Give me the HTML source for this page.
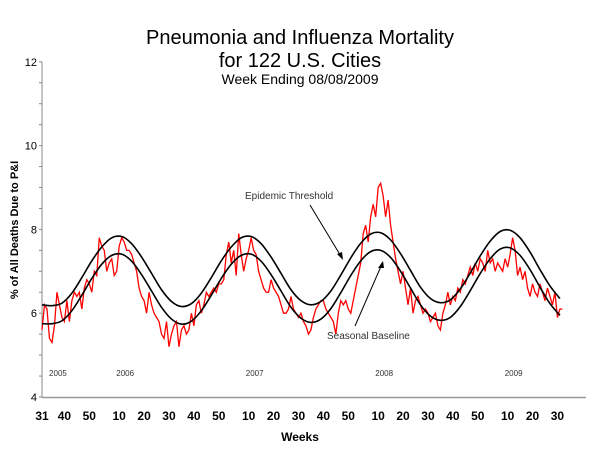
<!DOCTYPE html>
<html><head><meta charset="utf-8"><style>
body{margin:0;background:#fff;}
svg{display:block;font-family:"Liberation Sans",Arial,sans-serif;}
</style></head><body>
<svg id="chart" width="600" height="450" viewBox="0 0 600 450">
<text x="300" y="44" font-size="20" text-anchor="middle">Pneumonia and Influenza Mortality</text>
<text x="300" y="67" font-size="20" text-anchor="middle">for 122 U.S. Cities</text>
<text x="300" y="84" font-size="14" text-anchor="middle">Week Ending 08/08/2009</text>
<text transform="translate(18,230) rotate(-90)" font-size="11" font-weight="bold" text-anchor="middle">% of All Deaths Due to P&amp;I</text>
<text x="300" y="441" font-size="12" font-weight="bold" text-anchor="middle">Weeks</text>
<g id="axes"></g>
<g id="marks"></g>
<text x="245" y="199" font-size="10" fill="#333">Epidemic Threshold</text>
<line x1="310" y1="205" x2="342" y2="258" stroke="#000" stroke-width="1"/>
<polygon points="343,260 337,254 342,252" fill="#000"/>
<text x="327" y="339" font-size="10" fill="#333">Seasonal Baseline</text>
<line x1="355" y1="326" x2="382" y2="264" stroke="#000" stroke-width="1"/>
<polygon points="383,261 378,268 384,268" fill="#000"/>
</svg>
<script>
const pi = [5.6,6.2,6.1,5.4,5.3,5.7,6.5,6.2,5.9,5.8,6.3,5.8,6.3,6.5,6.4,6.5,6.1,6.6,6.8,6.7,6.5,7.0,
6.9,7.8,7.6,7.5,7.0,7.2,7.3,6.9,7.0,7.6,7.8,7.7,7.5,7.5,7.4,7.2,7.0,6.6,6.4,
6.3,6.0,6.5,6.2,6.0,5.9,5.8,5.5,5.4,5.8,5.2,5.5,5.7,5.8,5.2,5.6,5.7,5.5,5.6,6.0,
5.7,6.2,6.3,6.0,6.2,6.5,6.4,6.5,6.6,6.5,6.7,6.7,6.8,
7.4,7.7,7.2,7.5,6.9,7.9,7.4,7.0,7.3,7.5,7.8,7.5,7.4,7.0,6.8,6.6,6.5,6.5,6.8,6.6,6.5,6.4,
6.2,6.0,6.0,6.1,6.4,6.1,6.0,5.9,6.0,5.8,5.7,5.5,5.6,5.9,6.1,6.2,6.3,
6.3,6.1,6.0,5.9,5.8,5.5,6.0,6.3,6.2,6.3,6.1,6.0,6.3,
6.6,6.9,7.2,7.9,8.1,7.7,8.3,8.6,8.3,9.0,9.1,8.8,8.3,8.7,8.1,7.7,7.3,7.0,6.7,7.0,6.6,6.2,
6.6,6.0,6.3,6.4,6.2,6.0,6.1,6.0,5.8,5.9,6.0,5.7,5.6,6.0,6.2,6.5,6.2,6.4,
6.3,6.6,6.5,6.8,6.7,6.9,7.1,6.9,7.2,7.0,7.3,7.2,7.0,
7.5,7.2,7.3,7.0,7.2,7.1,7.0,7.3,7.1,7.4,7.8,7.5,6.9,7.1,6.8,7.0,6.6,6.4,6.7,6.5,6.4,6.7,
6.5,6.3,6.6,6.4,6.2,6.5,5.9,6.1,6.1];
// sampled every 4 weeks
const baseline = [5.75,5.75,5.82,6.06,6.43,6.83,7.17,7.38,7.41,7.24,6.92,6.53,6.14,5.86,5.74,5.81,6.06,6.43,6.83,7.17,7.38,7.41,7.24,6.92,6.53,6.14,5.88,5.78,5.86,6.11,6.49,6.9,7.25,7.47,7.5,7.33,7.0,6.6,6.2,5.93,5.83,5.9,6.16,6.54,6.95,7.3,7.53,7.56,7.38,7.04,6.62,6.23,5.95];
const threshold = [6.2,6.18,6.24,6.48,6.85,7.25,7.58,7.8,7.83,7.66,7.34,6.95,6.56,6.28,6.16,6.23,6.48,6.85,7.25,7.58,7.8,7.83,7.66,7.34,6.95,6.56,6.3,6.2,6.28,6.53,6.91,7.32,7.67,7.89,7.92,7.75,7.42,7.02,6.62,6.35,6.25,6.32,6.58,6.96,7.37,7.72,7.95,7.98,7.8,7.46,7.04,6.65,6.35];
const yTicks = [4,6,8,10,12];
const xTickWeeks = [0,9,19,31,41,51,61,71,83,93,103,113,123,135,145,155,165,175,187,197,207];
const xTickLabels = ["31","40","50","10","20","30","40","50","10","20","30","40","50","10","20","30","40","50","10","20","30"];
const yearWeeks = [4,31,83,135,187];
const yearLabels = ["2005","2006","2007","2008","2009"];

const NS="http://www.w3.org/2000/svg";
const x0=42, dx=2.49;
const X = i => x0 + i*dx;
const Y = v => 397 - (v-4)*41.9;
const axes=document.getElementById('axes'), marks=document.getElementById('marks');
function mk(tag, attrs, parent){const e=document.createElementNS(NS,tag);for(const k in attrs)e.setAttribute(k,attrs[k]);parent.appendChild(e);return e;}

let e=mk('line',{x1:x0,y1:62,x2:x0,y2:397,stroke:'#888','stroke-width':1},axes);


e=mk('line',{x1:x0,y1:397.5,x2:586,y2:397.5,stroke:'#999','stroke-width':1.5},axes);


for(let v=4; v<=12.001; v+=0.5){
  e=mk('line',{x1:x0-3,y1:Y(v),x2:x0,y2:Y(v),stroke:'#888','stroke-width':1},axes);
  
  
}
yTicks.forEach(v=>{
  e=mk('text',{x:x0-5,y:Y(v)+4,'font-size':11,'text-anchor':'end'},axes);
  e.textContent=v;
  
  
});
xTickWeeks.forEach((w,k)=>{
  e=mk('text',{x:X(w),y:420,'font-size':12,'font-weight':'bold','text-anchor':'middle'},axes);
  e.textContent=xTickLabels[k];
  
  
});
yearWeeks.forEach((w,k)=>{
  e=mk('text',{x:X(w)+6,y:376,'font-size':8,'fill':'#333','text-anchor':'middle'},axes);
  e.textContent=yearLabels[k];
  
  
});
function smooth(arr, step){
  const p=arr.map((v,i)=>[X(Math.min(i*step,pi.length-1)),Y(v)]);
  let d='M'+p[0][0]+','+p[0][1];
  for(let i=0;i<p.length-1;i++){
    const a=p[Math.max(i-1,0)],b=p[i],c=p[i+1],q=p[Math.min(i+2,p.length-1)];
    d+=` C${b[0]+(c[0]-a[0])/6},${b[1]+(c[1]-a[1])/6} ${c[0]-(q[0]-b[0])/6},${c[1]-(q[1]-b[1])/6} ${c[0]},${c[1]}`;
  }
  return d;
}
e=mk('path',{d:pi.map((v,i)=>(i?'L':'M')+X(i)+','+Y(v)).join(''),fill:'none',stroke:'#ff0000','stroke-width':1.3},marks);


e=mk('path',{d:smooth(baseline,4),fill:'none',stroke:'#000','stroke-width':1.6},marks);


e=mk('path',{d:smooth(threshold,4),fill:'none',stroke:'#000','stroke-width':1.6},marks);


</script>
</body></html>
